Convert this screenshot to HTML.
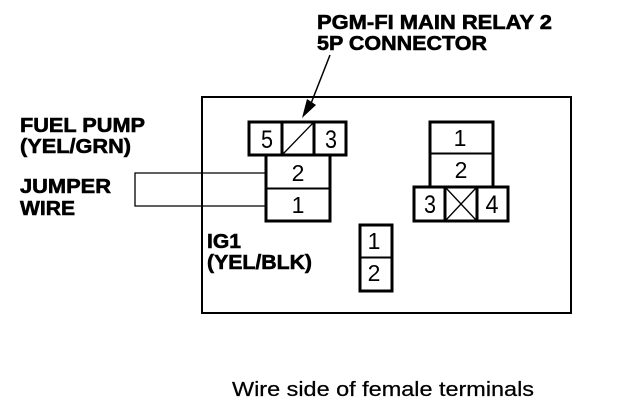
<!DOCTYPE html>
<html>
<head>
<meta charset="utf-8">
<style>
html,body{margin:0;padding:0;background:#fff;width:624px;height:412px;overflow:hidden}
svg{display:block}
text{font-family:"Liberation Sans",sans-serif;fill:#000}
.b{font-weight:bold;font-size:20.5px;stroke:#000;stroke-width:.6px}
.n{font-size:23px;text-anchor:middle}
.m{font-size:25px;text-anchor:middle}
</style>
</head>
<body>
<svg width="624" height="412" viewBox="0 0 624 412" xmlns="http://www.w3.org/2000/svg">
<g fill="none" stroke="#000">
<rect x="202" y="97" width="369" height="216" stroke-width="2"/>
<path d="M266 173H135V206H266" stroke-width="1.300"/>
<g stroke-width="3">
<rect x="249" y="122" width="97" height="33"/>
<path d="M282 122V155M314 122V155"/>
<path d="M266 155V221H330V155"/>
<rect x="430" y="122" width="63" height="65"/>
<rect x="414" y="187" width="94" height="34"/>
<path d="M445 187V221M477 187V221"/>
<rect x="360" y="225" width="32" height="66"/>
</g>
<path d="M266 188.500H330M430 153.500H493M360 257.500H392" stroke-width="2"/>
<path d="M283 154L313 123M446 188L476 220M476 188L446 220" stroke-width="1.300"/>
<path d="M330 55L310 106" stroke-width="1.500"/>
</g>
<path d="M302 118L307 99L316 105Z" fill="#000"/>
<text class="b" x="317" y="29" textLength="235" lengthAdjust="spacingAndGlyphs">PGM-FI MAIN RELAY 2</text>
<text class="b" x="317" y="50" textLength="170" lengthAdjust="spacingAndGlyphs">5P CONNECTOR</text>
<text class="b" x="20" y="132" textLength="125" lengthAdjust="spacingAndGlyphs">FUEL PUMP</text>
<text class="b" x="20" y="153" textLength="111" lengthAdjust="spacingAndGlyphs">(YEL/GRN)</text>
<text class="b" x="20" y="193" textLength="91" lengthAdjust="spacingAndGlyphs">JUMPER</text>
<text class="b" x="20" y="215" textLength="55" lengthAdjust="spacingAndGlyphs">WIRE</text>
<text class="b" x="207" y="248" textLength="34" lengthAdjust="spacingAndGlyphs">IG1</text>
<text class="b" x="207" y="269" textLength="105" lengthAdjust="spacingAndGlyphs">(YEL/BLK)</text>
<text class="m" x="267" y="148" textLength="12" lengthAdjust="spacingAndGlyphs">5</text>
<text class="m" x="331" y="148" textLength="12" lengthAdjust="spacingAndGlyphs">3</text>
<text class="n" x="298" y="181">2</text>
<text class="n" x="298" y="213">1</text>
<text class="n" x="460" y="146">1</text>
<text class="n" x="461" y="178">2</text>
<text class="m" x="430" y="213" textLength="12" lengthAdjust="spacingAndGlyphs">3</text>
<text class="m" x="492" y="213" textLength="13" lengthAdjust="spacingAndGlyphs">4</text>
<text class="n" x="374" y="249">1</text>
<text class="n" x="374" y="281">2</text>
<text x="232" y="396" font-size="20.500" stroke="#000" stroke-width=".25" textLength="302" lengthAdjust="spacingAndGlyphs">Wire side of female terminals</text>
</svg>
</body>
</html>
